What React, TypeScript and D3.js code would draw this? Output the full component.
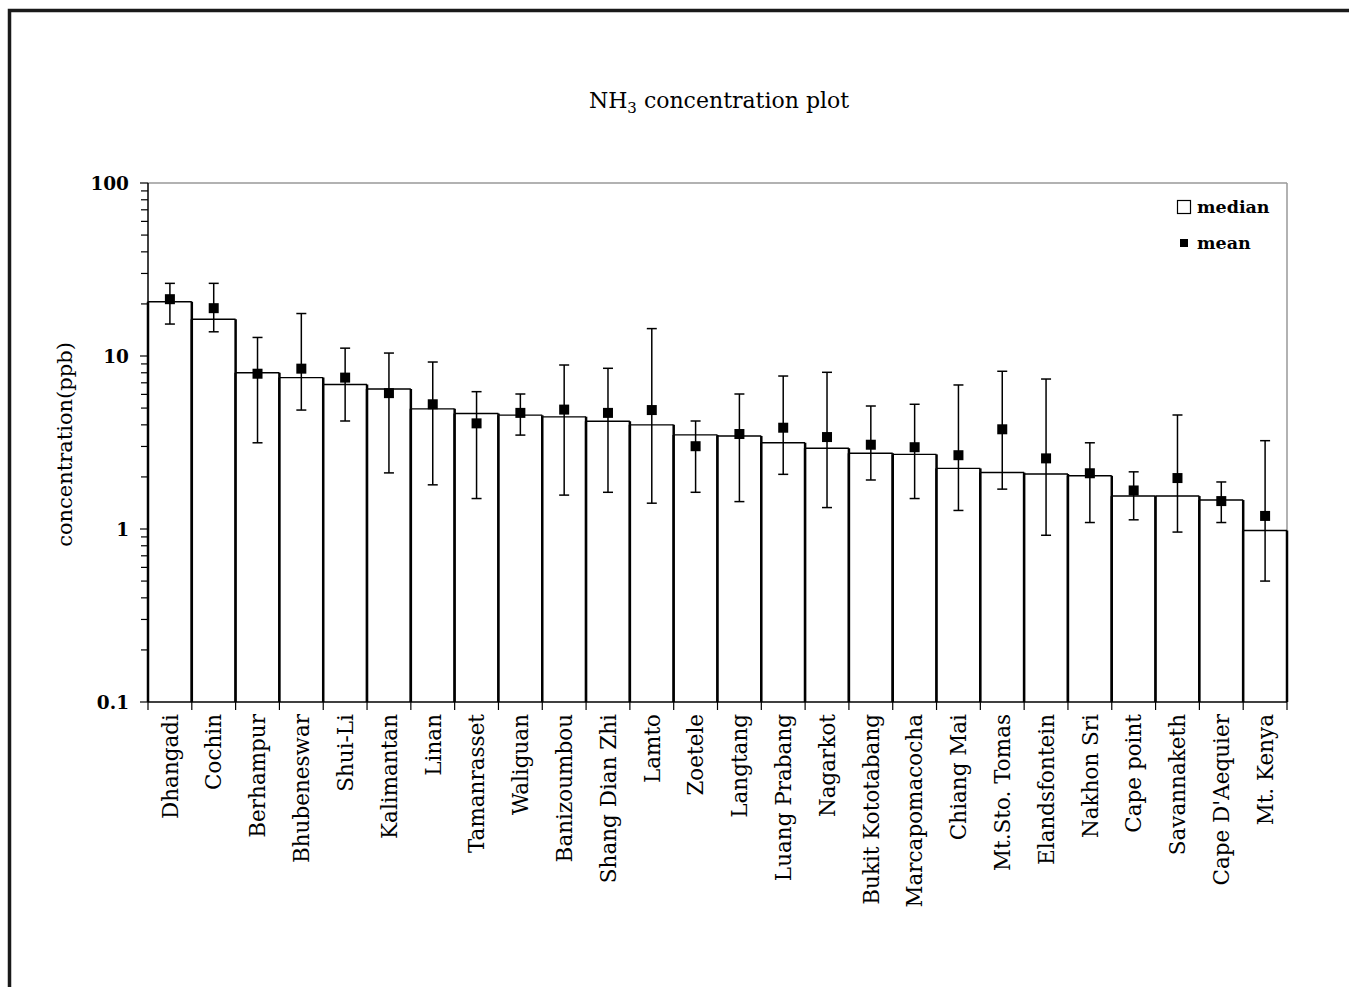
import React from "react";
import * as d3 from "d3";

const categories = [
  "Dhangadi", "Cochin", "Berhampur", "Bhubeneswar", "Shui-Li", "Kalimantan", "Linan",
  "Tamanrasset", "Waliguan", "Banizoumbou", "Shang Dian Zhi", "Lamto", "Zoetele", "Langtang",
  "Luang Prabang", "Nagarkot", "Bukit Kototabang", "Marcapomacocha", "Chiang Mai",
  "Mt.Sto. Tomas", "Elandsfontein", "Nakhon Sri", "Cape point", "Savannaketh",
  "Cape D'Aequier", "Mt. Kenya",
];
const medianValues = [
  20.6, 16.3, 8.0, 7.5, 6.85, 6.45, 4.95, 4.65, 4.55, 4.45, 4.2, 4.0, 3.5, 3.45,
  3.15, 2.93, 2.74, 2.7, 2.24, 2.12, 2.08, 2.03, 1.55, 1.55, 1.47, 0.98,
];
const meanValues = [
  21.3, 18.9, 7.9, 8.45, 7.5, 6.1, 5.26, 4.08, 4.69, 4.9, 4.69, 4.87, 3.01, 3.54,
  3.85, 3.4, 3.07, 2.97, 2.67, 3.77, 2.56, 2.1, 1.67, 1.97, 1.45, 1.19,
];
const errHigh = [
  26.3, 26.3, 12.8, 17.6, 11.1, 10.4, 9.23, 6.22, 6.03, 8.87, 8.49, 14.4, 4.21, 6.03,
  7.66, 8.05, 5.14, 5.26, 6.8, 8.16, 7.36, 3.15, 2.14, 4.56, 1.87, 3.24,
];
const errLow = [
  15.3, 13.8, 3.15, 4.87, 4.21, 2.11, 1.8, 1.5, 3.49, 1.57, 1.63, 1.41, 1.63, 1.44,
  2.07, 1.33, 1.92, 1.5, 1.28, 1.7, 0.92, 1.09, 1.13, 0.96, 1.09, 0.5,
];
const majorTicks = [0.1, 1, 10, 100];
const majorTickLabels = ["0.1", "1", "10", "100"];

const FONT = "'DejaVu Serif', 'Liberation Serif', serif";

export default function App() {
  const W = 1349;
  const H = 987;
  const left = 148, right = 1287, top = 183, bottom = 702;

  const x = d3.scaleBand<string>().domain(categories).range([left, right]).padding(0);
  const y = d3.scaleLog().domain([0.1, 100]).range([bottom, top]);
  const bw = x.bandwidth();

  const minorTicks: number[] = [];
  for (let dec = 0.1; dec < 100; dec *= 10) {
    for (let k = 2; k <= 9; k++) minorTicks.push(+(dec * k).toPrecision(3));
  }

  const capHalf = 5;
  const mk = 10;

  return (
    <svg
      width={W}
      height={H}
      style={{ position: "absolute", left: 0, top: 0, background: "#fff" }}
      fontFamily={FONT}
    >
      <rect x={0} y={0} width={W} height={H} fill="#fff" />
      {/* outer frame */}
      <path d={`M9.5,${H + 5} L9.5,10.5 L${W + 5},10.5`} fill="none" stroke="#1a1a1a" strokeWidth={3.5} />

      {/* title */}
      <text x={719} y={108} textAnchor="middle" fontSize={22} fill="#000">
        NH
        <tspan fontSize={15} dy={5}>3</tspan>
        <tspan dy={-5}> concentration plot</tspan>
      </text>

      {/* plot area top/right gray lines */}
      <line x1={left} x2={right} y1={top} y2={top} stroke="#999" strokeWidth={1.5} />
      <line x1={right} x2={right} y1={top} y2={bottom} stroke="#999" strokeWidth={1.5} />

      {/* bars */}
      {categories.map((c, i) => {
        const x0 = x(c)!;
        const yt = y(medianValues[i]);
        return (
          <g key={c}>
            <rect x={x0} y={yt} width={bw} height={bottom - yt} fill="#fff" stroke="none" />
            <line x1={x0} x2={x0 + bw} y1={yt} y2={yt} stroke="#000" strokeWidth={1.4} />
            <line x1={x0} x2={x0} y1={yt} y2={bottom} stroke="#000" strokeWidth={2.5} />
            <line x1={x0 + bw} x2={x0 + bw} y1={yt} y2={bottom} stroke="#000" strokeWidth={2.5} />
          </g>
        );
      })}

      {/* error bars and means */}
      {categories.map((c, i) => {
        const cx = x(c)! + bw / 2;
        const yh = y(errHigh[i]);
        const yl = y(errLow[i]);
        const ym = y(meanValues[i]);
        return (
          <g key={"e" + c}>
            <line x1={cx} x2={cx} y1={yh} y2={yl} stroke="#000" strokeWidth={1.5} />
            <line x1={cx - capHalf} x2={cx + capHalf} y1={yh} y2={yh} stroke="#000" strokeWidth={1.5} />
            <line x1={cx - capHalf} x2={cx + capHalf} y1={yl} y2={yl} stroke="#000" strokeWidth={1.5} />
            <rect x={cx - mk / 2} y={ym - mk / 2} width={mk} height={mk} fill="#000" />
          </g>
        );
      })}

      {/* y axis */}
      <line x1={left} x2={left} y1={top} y2={bottom} stroke="#000" strokeWidth={1.5} />
      {minorTicks.map((t) => (
        <line key={"m" + t} x1={left - 7} x2={left} y1={y(t)} y2={y(t)} stroke="#000" strokeWidth={1.2} />
      ))}
      {majorTicks.map((t, i) => (
        <g key={"M" + t}>
          <line x1={left - 8} x2={left} y1={y(t)} y2={y(t)} stroke="#000" strokeWidth={1.2} />
          <text x={129} y={y(t)} dy="0.36em" textAnchor="end" fontSize={18.5} fontWeight="bold" fill="#000">
            {majorTickLabels[i]}
          </text>
        </g>
      ))}
      <text
        transform={`translate(72, ${(top + bottom) / 2 + 2}) rotate(-90)`}
        textAnchor="middle"
        fontSize={21}
        fill="#000"
      >
        concentration(ppb)
      </text>

      {/* x axis */}
      <line x1={left} x2={right} y1={bottom} y2={bottom} stroke="#000" strokeWidth={1.5} />
      {[...categories.map((c) => x(c)!), right].map((bx, i) => (
        <line key={"xt" + i} x1={bx} x2={bx} y1={bottom} y2={bottom + 8} stroke="#000" strokeWidth={1.2} />
      ))}
      {categories.map((c) => {
        const cx = x(c)! + bw / 2;
        return (
          <text
            key={"l" + c}
            transform={`translate(${cx}, ${bottom + 12}) rotate(-90)`}
            textAnchor="end"
            dy="0.36em"
            fontSize={21.5}
            fill="#000"
          >
            {c}
          </text>
        );
      })}

      {/* legend */}
      <rect x={1177.5} y={200.5} width={13} height={13} fill="#fff" stroke="#000" strokeWidth={1.2} />
      <text x={1197} y={207} dy="0.36em" fontSize={17.5} fontWeight="bold" fill="#000">median</text>
      <rect x={1180} y={239} width={8} height={8} fill="#000" />
      <text x={1197} y={243} dy="0.36em" fontSize={17.5} fontWeight="bold" fill="#000">mean</text>
    </svg>
  );
}
